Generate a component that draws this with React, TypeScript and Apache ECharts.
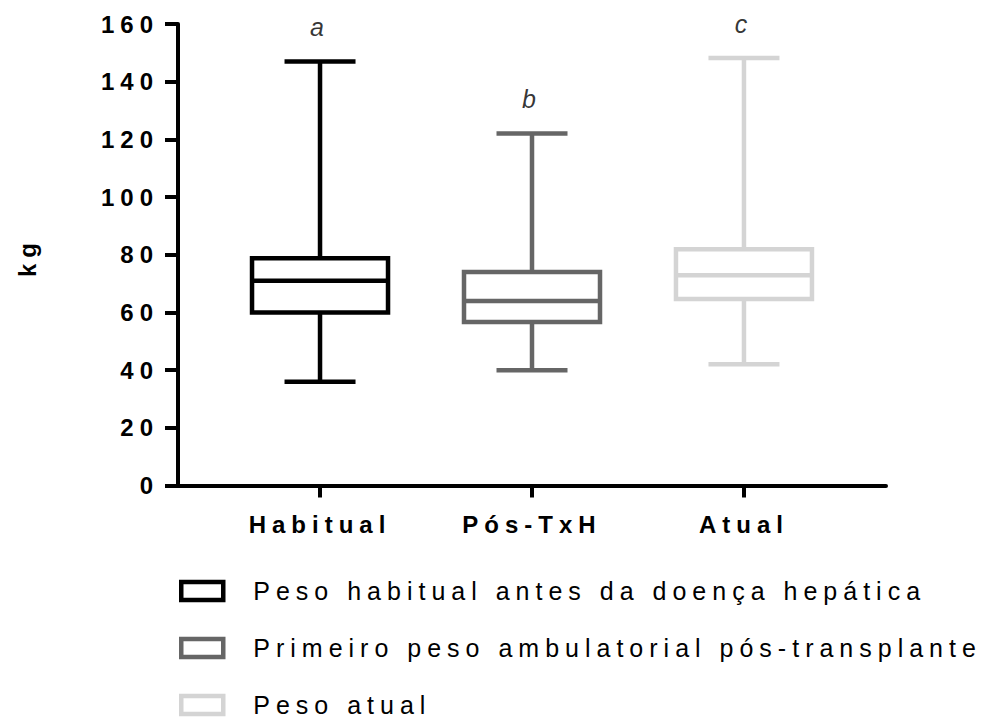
import React, { useEffect, useRef } from "react";
import * as echarts from "echarts";

const categories = ["Habitual", "Pós-TxH", "Atual"];
const seriesNames = [
  "Peso habitual antes da doença hepática",
  "Primeiro peso ambulatorial pós-transplante",
  "Peso atual",
];
const mins = [36, 40, 42];
const q1s = [60, 56.7, 64.7];
const medians = [71, 64, 72.9];
const q3s = [78.8, 74, 81.9];
const maxs = [147, 122, 148.2];
const groupLetters = ["a", "b", "c"];
const colors = ["#000000", "#666666", "#d4d4d4"];
const yAxisName = "kg";

const FONT = "'Liberation Sans', Arial, Helvetica, sans-serif";

function makeRender(color: string) {
  return (params: any, api: any) => {
    const x = api.value(0);
    const pMin = api.coord([x, api.value(1)]);
    const yQ1 = api.coord([x, api.value(2)])[1];
    const yMed = api.coord([x, api.value(3)])[1];
    const yQ3 = api.coord([x, api.value(4)])[1];
    const yMax = api.coord([x, api.value(5)])[1];
    const cx = pMin[0];
    const yMin = pMin[1];
    const bw = 136;
    const cw = 71;
    const st = { stroke: color, lineWidth: 4.5, fill: "none" };
    return {
      type: "group",
      children: [
        { type: "line", shape: { x1: cx, y1: yQ3, x2: cx, y2: yMax }, style: st },
        { type: "line", shape: { x1: cx, y1: yQ1, x2: cx, y2: yMin }, style: st },
        { type: "line", shape: { x1: cx - cw / 2, y1: yMax, x2: cx + cw / 2, y2: yMax }, style: st },
        { type: "line", shape: { x1: cx - cw / 2, y1: yMin, x2: cx + cw / 2, y2: yMin }, style: st },
        {
          type: "rect",
          shape: { x: cx - bw / 2, y: yQ3, width: bw, height: yQ1 - yQ3 },
          style: { ...st, fill: "#ffffff" },
        },
        { type: "line", shape: { x1: cx - bw / 2, y1: yMed, x2: cx + bw / 2, y2: yMed }, style: st },
      ],
    };
  };
}

export default function App() {
  const ref = useRef<HTMLDivElement>(null);
  useEffect(() => {
    if (!ref.current) return;
    const chart = echarts.init(ref.current, null, { renderer: "svg" });
    const boxSeries = categories.map((c, i) => ({
      name: seriesNames[i],
      type: "custom",
      renderItem: makeRender(colors[i]),
      itemStyle: { color: colors[i] },
      encode: { x: 0, y: [1, 2, 3, 4, 5] },
      data: [[i, mins[i], q1s[i], medians[i], q3s[i], maxs[i]]],
      z: 2,
    }));
    const letterSeries = {
      name: "letters",
      type: "scatter",
      symbolSize: 0,
      silent: true,
      data: categories.map((c, i) => [i, maxs[i]]),
      label: {
        show: true,
        position: "top",
        distance: 22,
        formatter: (p: any) => groupLetters[p.dataIndex],
        fontFamily: FONT,
        fontStyle: "italic",
        fontSize: 25,
        color: "#000",
      },
      z: 3,
    };
    chart.setOption({
      animation: false,
      grid: { left: 178, right: 98, top: 24, bottom: 239.5 },
      xAxis: {
        type: "value",
        min: -0.67,
        max: 2.67,
        splitLine: { show: false },
        axisLine: { show: true, onZero: false, lineStyle: { color: "#000", width: 4 } },
        axisTick: {
          show: true,
          customValues: [0, 1, 2],
          length: 12,
          lineStyle: { color: "#000", width: 4 },
        },
        axisLabel: {
          show: true,
          customValues: [0, 1, 2],
          formatter: (v: number) => categories[Math.round(v)],
          margin: 27,
          fontFamily: FONT,
          fontWeight: "bold",
          fontSize: 24,
          color: "#000",
        },
      },
      yAxis: {
        type: "value",
        min: 0,
        max: 160,
        interval: 20,
        splitLine: { show: false },
        axisLine: { show: true, onZero: false, lineStyle: { color: "#000", width: 4 } },
        axisTick: { show: true, length: 13, lineStyle: { color: "#000", width: 4 } },
        axisLabel: {
          margin: 19,
          fontFamily: FONT,
          fontWeight: "bold",
          fontSize: 24,
          color: "#000",
        },
      },
      legend: {
        orient: "vertical",
        left: 179,
        top: 578,
        padding: 0,
        itemWidth: 42,
        itemHeight: 18,
        itemGap: 31,
        selectedMode: false,
        data: seriesNames.map((n, i) => ({
          name: n,
          icon: "rect",
          itemStyle: { color: "#ffffff", borderColor: colors[i], borderWidth: 4.5 },
        })),
        textStyle: {
          fontFamily: FONT,
          fontSize: 25,
          lineHeight: 26,
          color: "#000",
          padding: [0, 0, 0, 25],
        },
      },
      graphic: [
        {
          type: "text",
          x: 27,
          y: 257,
          rotation: Math.PI / 2,
          style: {
            text: yAxisName,
            fontFamily: FONT,
            fontWeight: "bold",
            fontSize: 24,
            fill: "#000",
            align: "center",
            verticalAlign: "middle",
          },
        },
      ],
      series: [...boxSeries, letterSeries],
    });
    return () => chart.dispose();
  }, []);
  return (
    <div
      ref={ref}
      style={{
        position: "absolute",
        left: 0,
        top: 0,
        width: 984,
        height: 725,
        letterSpacing: "6px",
        background: "#fff",
      }}
    />
  );
}
